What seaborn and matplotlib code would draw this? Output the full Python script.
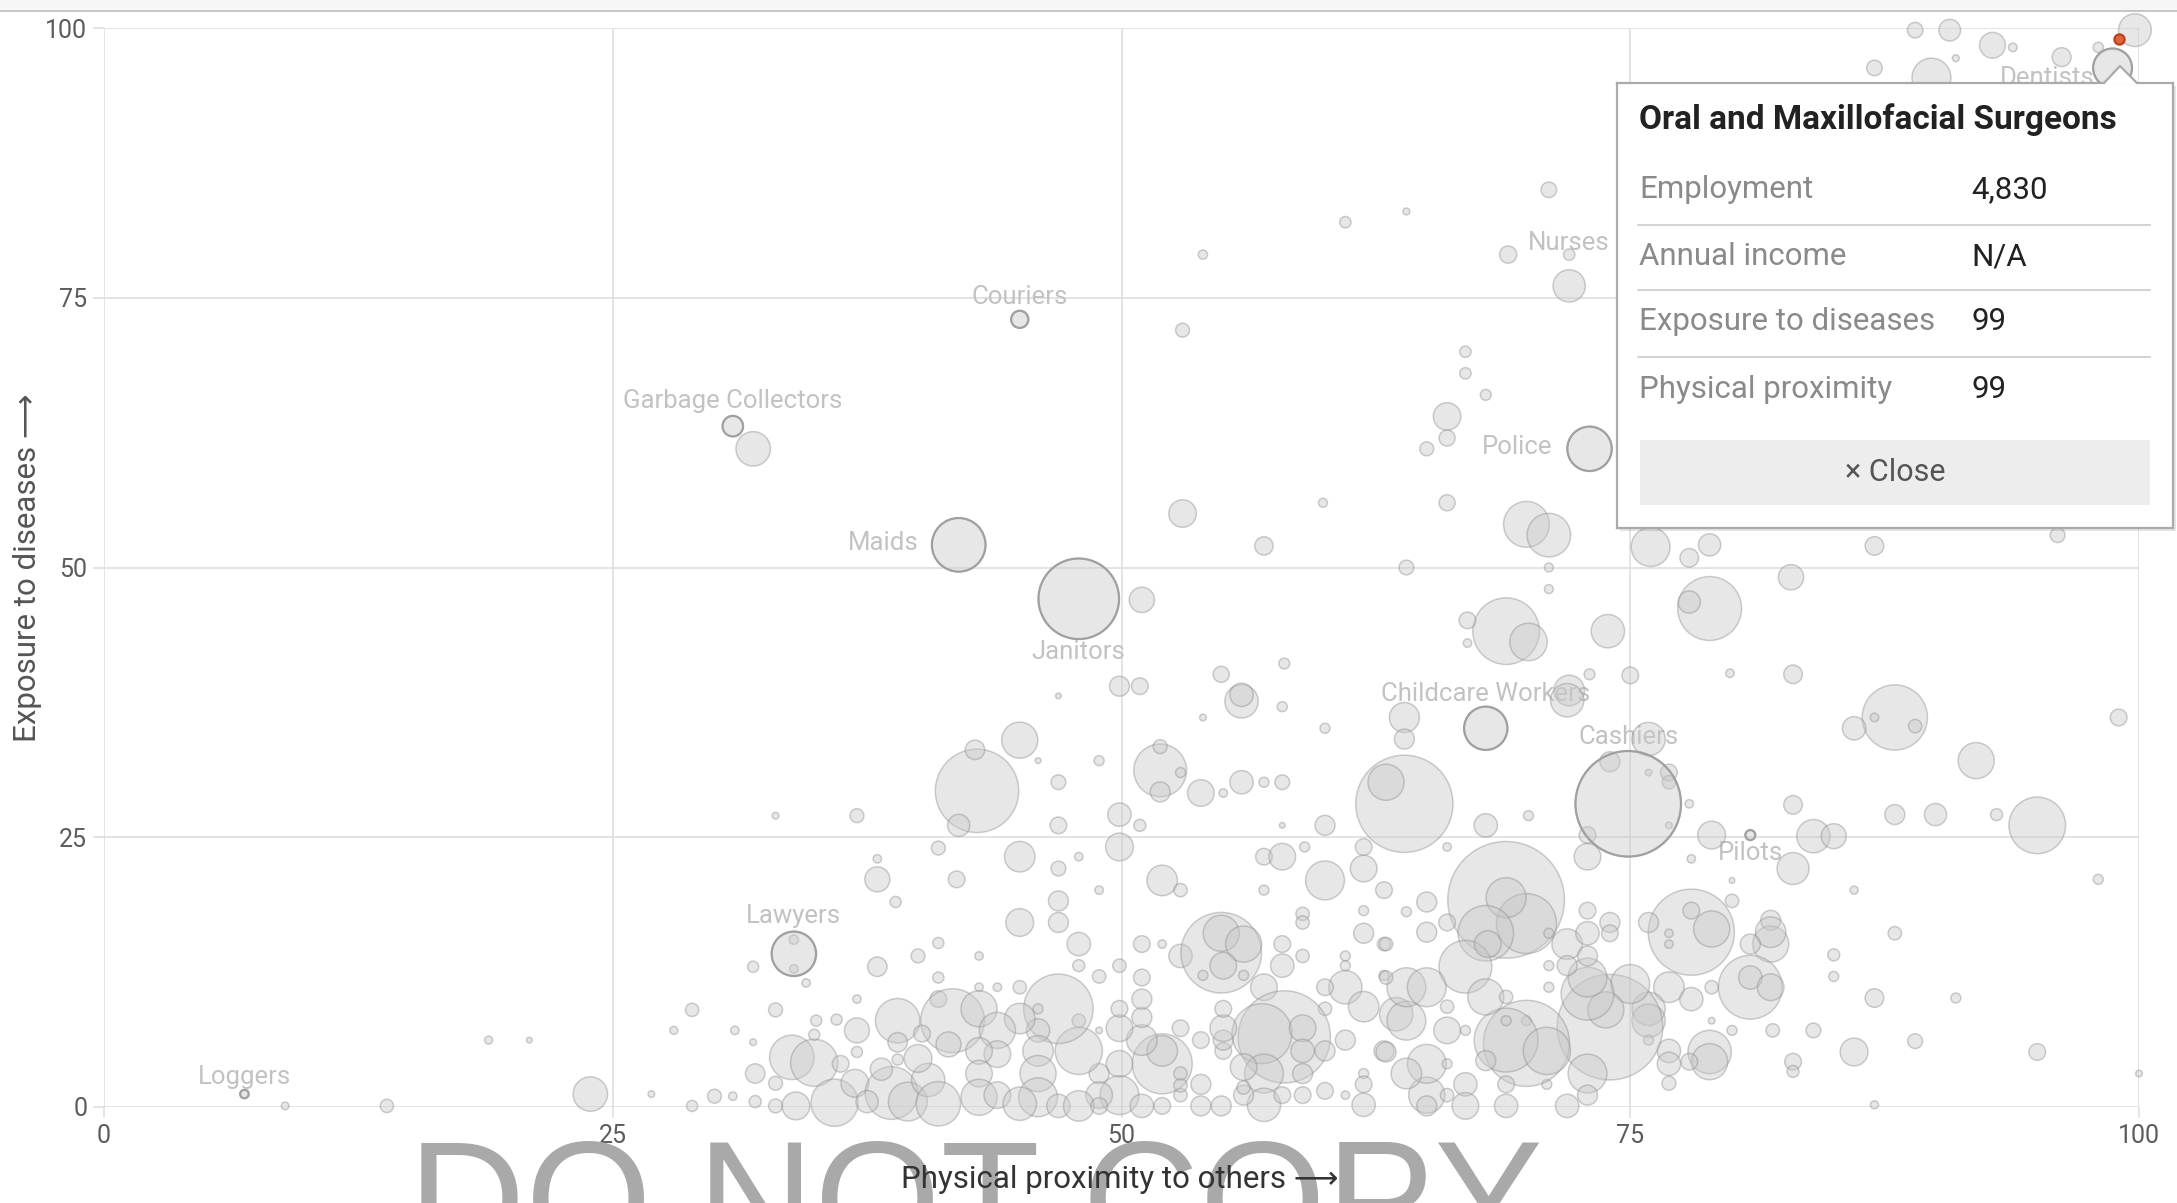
import matplotlib
matplotlib.use("Agg")
import matplotlib.pyplot as plt
from matplotlib.patches import Rectangle, Polygon
from matplotlib.lines import Line2D
import pandas as pd
import seaborn as sns

# --- occupations: proximity (x), exposure (y), employment in thousands ---
# far left, sparse
left_x = [8.9, 13.9, 18.9, 20.9, 23.9, 26.9, 28.0, 28.9, 28.9, 30.0,
          30.9, 31.0, 31.9, 31.9, 33.0, 33.0, 37.0, 31.9]
left_y = [0.1, 0.1, 6.2, 6.2, 1.2, 1.2, 7.1, 9.0, 0.1, 1.0,
          1.0, 7.1, 6.0, 13.0, 9.0, 27.0, 27.0, 61.0]
left_e = [20, 60, 22, 11, 404, 15, 22, 60, 42, 66,
          24, 24, 15, 42, 66, 15, 66, 404]

# proximity 32-43
mid1_x = [33.9, 33.9, 38.0, 38.0, 38.9, 38.0, 37.0, 36.0, 37.0, 37.0,
          39.0, 39.0, 41.0, 41.0, 41.0, 40.0, 41.0, 41.9, 41.7, 42.9,
          42.0, 42.8, 33.8, 34.9, 34.9, 32.0, 33.0, 32.0, 33.0, 34.0,
          35.9, 36.9, 38.7, 39.5, 40.5, 41.0, 40.0, 41.5, 40.2, 39.0,
          38.2, 37.5, 36.2, 35.0, 34.5]
mid1_y = [15.5, 12.8, 21.1, 23.0, 19.0, 13.0, 10.0, 8.1, 7.1, 5.1,
          8.0, 4.4, 12.0, 10.0, 15.2, 14.0, 24.0, 21.1, 8.0, 29.3,
          26.1, 33.1, 4.6, 4.1, 6.7, 3.1, 2.2, 0.5, 0.1, 0.1,
          0.4, 2.2, 1.3, 0.5, 2.5, 0.3, 4.5, 5.8, 6.8, 6.0,
          3.5, 0.5, 4.0, 8.0, 11.5]
mid1_e = [30, 25, 213, 24, 42, 129, 24, 42, 213, 42,
          673, 42, 42, 95, 42, 66, 66, 95, 1391, 2367,
          168, 129, 673, 760, 42, 129, 66, 50, 66, 263,
          760, 263, 949, 515, 379, 673, 263, 213, 95, 129,
          168, 168, 95, 42, 24]

# proximity 43-63, exposure above 19
mid2_x = [45.0, 45.9, 46.9, 46.9, 46.9, 48.9, 49.9, 50.9, 49.9, 49.9,
          50.9, 51.9, 51.9, 51.9, 52.9, 53.9, 55.0, 55.9, 55.9, 55.9,
          57.0, 57.9, 57.9, 54.0, 60.0, 57.9, 60.0, 45.0, 46.9, 47.9,
          48.9, 52.0, 52.9, 57.0, 57.0, 57.9, 59.0, 60.0, 62.9, 61.9,
          61.9]
mid2_y = [34.0, 32.1, 38.1, 30.1, 26.1, 32.1, 39.0, 39.0, 27.1, 24.1,
          26.1, 31.2, 33.4, 29.2, 31.0, 29.1, 29.1, 30.1, 37.6, 38.2,
          30.1, 30.1, 37.1, 36.1, 35.1, 26.1, 26.1, 23.2, 22.1, 23.2,
          20.1, 21.0, 20.1, 20.1, 23.2, 23.2, 24.1, 21.0, 20.1, 24.1,
          22.1]
mid2_e = [444, 11, 11, 74, 95, 34, 136, 95, 186, 263,
          49, 949, 66, 136, 34, 242, 24, 186, 379, 186,
          34, 74, 34, 15, 34, 11, 136, 318, 74, 24,
          24, 318, 61, 34, 95, 242, 34, 515, 95, 95,
          242]

# proximity 43-63, exposure below 19
low_x = [46.9, 46.9, 45.0, 47.9, 43.0, 47.9, 48.9, 49.9, 51.0, 52.0,
         52.9, 54.9, 54.9, 56.0, 55.0, 54.0, 56.0, 57.0, 57.9, 57.9,
         58.9, 58.9, 58.9, 61.0, 61.0, 61.9, 61.9, 62.9, 62.9, 61.0,
         61.9, 60.0, 60.0, 63.5, 62.9, 61.0, 61.9, 61.9, 61.9, 61.0,
         60.0, 58.0, 56.9, 57.0, 57.0, 56.0, 56.0, 54.9, 53.9, 53.9,
         55.0, 55.0, 55.0, 55.0, 53.9, 52.9, 52.0, 52.0, 51.0, 51.0,
         51.0, 51.0, 49.9, 49.9, 49.9, 49.9, 51.0, 52.0, 52.9, 48.9,
         48.9, 48.9, 47.9, 47.9, 46.9, 45.9, 45.9, 45.9, 45.9, 45.9,
         45.0, 45.0, 43.9, 43.0, 43.0, 43.9, 43.9, 43.0, 43.0, 43.0,
         43.9, 45.0, 46.9, 47.9, 48.9, 58.9, 58.9, 60.0, 58.9, 57.9,
         58.9, 56.0, 52.9, 52.9]
low_y = [19.1, 17.1, 17.1, 15.1, 14.0, 13.1, 12.1, 13.1, 15.1, 15.1,
         14.0, 14.3, 16.1, 15.1, 13.1, 12.2, 12.2, 11.1, 15.1, 13.1,
         14.0, 17.9, 17.1, 14.0, 13.1, 16.1, 18.2, 15.1, 12.2, 11.1,
         9.3, 11.1, 9.1, 8.6, 5.2, 6.2, 3.1, 2.1, 0.2, 1.1,
         1.5, 6.5, 6.8, 3.1, 0.2, 3.7, 1.1, 0.1, 0.1, 2.1,
         5.2, 6.2, 7.3, 9.1, 6.2, 7.3, 4.0, 5.2, 6.2, 8.3,
         10.0, 12.0, 7.3, 9.1, 4.0, 1.1, 0.1, 0.1, 1.1, 7.1,
         3.1, 1.1, 5.2, 8.0, 9.1, 9.1, 7.1, 5.2, 3.1, 0.9,
         8.2, 11.1, 11.1, 11.1, 9.1, 7.1, 4.9, 5.2, 3.1, 0.9,
         1.1, 0.3, 0.1, 0.1, 0.1, 7.3, 5.2, 5.2, 3.1, 1.1,
         1.1, 1.8, 3.1, 2.0]
low_e = [136, 136, 263, 186, 24, 49, 61, 61, 95, 24,
         186, 2212, 444, 444, 242, 34, 34, 242, 95, 186,
         61, 61, 61, 34, 34, 136, 34, 61, 34, 379,
         318, 95, 61, 379, 136, 136, 34, 95, 186, 24,
         95, 2900, 1227, 515, 379, 242, 136, 136, 136, 136,
         95, 136, 242, 95, 95, 95, 1227, 318, 318, 136,
         136, 95, 242, 95, 242, 515, 186, 95, 61, 15,
         136, 242, 760, 61, 1644, 34, 186, 318, 444, 515,
         318, 61, 24, 24, 444, 444, 242, 242, 242, 444,
         242, 379, 186, 318, 95, 242, 186, 136, 136, 95,
         95, 61, 61, 61]

# upper middle
up_x = [51.0, 53.0, 57.0, 59.9, 64.0, 66.0, 66.0, 65.0, 67.9, 66.0,
        66.9, 66.9, 69.9, 71.0, 71.0, 71.0, 68.9, 70.0, 67.0, 67.0,
        72.0, 73.0, 75.0, 58.0, 54.9, 71.0, 64.0, 61.0, 54.0, 53.0,
        69.0, 72.0, 73.9, 76.0, 77.9, 78.9, 78.9, 77.9, 82.9]
up_y = [47.0, 55.0, 52.0, 56.0, 50.0, 64.0, 62.0, 61.0, 66.0, 56.0,
        70.0, 68.0, 54.0, 53.0, 50.0, 48.0, 44.1, 43.1, 45.1, 43.0,
        38.6, 40.1, 40.0, 41.1, 40.1, 85.0, 83.0, 82.0, 79.0, 72.0,
        79.0, 79.0, 44.1, 51.9, 50.9, 52.1, 46.2, 46.8, 49.1]
up_e = [218, 258, 115, 27, 74, 258, 88, 66, 40, 88,
        44, 44, 716, 648, 27, 27, 1515, 479, 95, 24,
        318, 40, 95, 40, 88, 82, 16, 44, 29, 66,
        101, 44, 379, 515, 118, 168, 1391, 168, 218]

# right side
right_x = [87.0, 96.0, 79.9, 83.0, 88.0, 86.0, 92.0, 99.0, 83.0, 88.0,
           90.0, 93.0, 95.0, 84.0, 85.0, 83.0, 98.0, 86.0, 88.0, 85.0,
           85.0, 87.0, 91.0, 84.0, 86.0, 89.0, 95.0, 83.0, 83.0, 100.0,
           87.0, 87.0, 89.0]
right_y = [52.0, 53.0, 40.2, 40.1, 36.1, 35.1, 32.1, 36.1, 28.0, 27.1,
           27.1, 27.1, 26.1, 25.1, 25.1, 22.1, 21.1, 20.1, 16.1, 14.1,
           12.1, 10.1, 10.1, 7.1, 5.1, 6.1, 5.1, 4.2, 3.3, 3.1,
           0.2, 36.1, 35.3]
right_e = [118, 74, 24, 118, 1452, 186, 444, 95, 118, 136,
           168, 49, 1094, 379, 213, 348, 34, 22, 61, 49,
           34, 118, 34, 74, 263, 74, 95, 95, 49, 15,
           22, 25, 60]

# top right corner
top_x = [89.0, 90.7, 92.8, 91.0, 93.8, 96.2, 98.0, 99.8, 87.0, 89.8]
top_y = [99.8, 99.8, 98.4, 97.2, 98.2, 97.3, 98.2, 99.8, 96.3, 95.4]
top_e = [82, 160, 227, 16, 25, 122, 36, 366, 82, 515]

# proximity 63-84
east_x = [63.9, 63.9, 71.9, 74.0, 75.9, 76.9, 76.9, 77.9, 75.9, 76.9,
          72.9, 72.9, 63.9, 63.0, 67.9, 70.0, 66.0, 79.0, 78.0, 80.0,
          80.0, 68.9, 69.9, 68.9, 67.9, 66.9, 78.0, 79.0, 78.0, 75.9,
          76.9, 76.9, 81.9, 81.9, 81.9, 80.9, 80.9, 80.9, 81.9, 82.0,
          80.0, 78.9, 78.9, 78.0, 79.0, 79.0, 76.9, 75.9, 75.9, 75.9,
          76.9, 76.9, 74.0, 75.0, 73.8, 72.9, 72.9, 72.9, 72.9, 71.9,
          70.9, 69.9, 69.9, 68.9, 70.9, 68.9, 68.9, 67.9, 66.9, 66.9,
          65.0, 65.0, 65.0, 64.0, 63.0, 66.0, 66.0, 64.0, 64.0, 65.0,
          66.0, 66.0, 66.9, 67.9, 68.9, 68.9, 63.0, 63.0, 65.0, 65.0,
          64.0, 66.0, 68.0, 71.0, 71.0, 71.0, 71.9, 71.9, 72.9, 72.9,
          72.9, 74.0, 74.0, 76.9, 77.9]
east_y = [36.1, 34.1, 37.7, 32.0, 34.1, 31.0, 30.1, 28.1, 31.0, 26.1,
          25.2, 23.2, 28.1, 30.1, 26.1, 27.0, 24.1, 25.2, 23.0, 21.0,
          19.1, 19.2, 17.0, 19.4, 16.1, 13.0, 16.2, 16.5, 18.2, 17.1,
          16.1, 15.1, 17.3, 15.1, 16.2, 15.1, 11.1, 12.0, 11.1, 7.1,
          7.1, 5.1, 4.2, 10.0, 11.1, 8.0, 11.1, 9.1, 8.0, 6.2,
          5.2, 4.0, 7.4, 11.4, 9.0, 10.5, 12.0, 3.1, 1.1, 0.1,
          2.1, 8.0, 5.9, 6.2, 5.2, 2.1, 0.1, 4.3, 2.1, 0.1,
          1.1, 4.0, 0.1, 3.1, 5.1, 4.0, 1.1, 8.0, 11.1, 11.1,
          9.3, 7.1, 7.1, 10.2, 10.2, 8.0, 12.0, 15.1, 19.0, 16.2,
          18.1, 17.1, 15.1, 13.1, 11.1, 16.1, 15.1, 13.1, 14.0, 16.1,
          18.2, 17.1, 16.1, 2.2, 4.2]
east_e = [307, 136, 379, 136, 379, 95, 61, 24, 15, 15,
          95, 242, 3222, 444, 186, 34, 24, 263, 24, 11,
          61, 4639, 1227, 545, 1052, 949, 2527, 444, 95, 136,
          24, 24, 136, 444, 318, 136, 1391, 186, 242, 61,
          34, 640, 444, 186, 61, 15, 318, 379, 379, 34,
          186, 186, 3798, 515, 444, 949, 515, 515, 136, 186,
          34, 34, 2527, 1391, 760, 95, 186, 136, 186, 242,
          444, 515, 136, 318, 136, 34, 61, 515, 515, 515,
          61, 242, 34, 444, 61, 34, 61, 61, 136, 136,
          34, 95, 242, 34, 34, 34, 318, 136, 136, 186,
          95, 136, 95, 66, 95]

# labelled occupations
label_names = ["Loggers", "Garbage Collectors", "Couriers", "Maids", "Janitors", "Nurses",
               "Police", "Childcare Workers", "Cashiers", "Pilots", "Lawyers", "Dentists"]
label_x = [6.9, 30.9, 45.0, 42.0, 47.9, 72.0, 73.0, 67.9, 74.9, 80.9, 33.9, 98.7]
label_y = [1.2, 63.1, 73.0, 52.1, 47.1, 76.1, 61.0, 35.1, 28.1, 25.2, 14.2, 96.3]
label_e = [25, 144, 101, 980, 2212, 354, 673, 640, 3798, 34, 673, 515]

# selected occupation (tooltip)
focus_name = "Oral and Maxillofacial Surgeons"
focus_x = [99.0]
focus_y = [99.0]
tip_fields = ["Employment", "Annual income", "Exposure to diseases", "Physical proximity"]
tip_values = ["4,830", "N/A", "99", "99"]

ticks = [0, 25, 50, 75, 100]

all_x = left_x + mid1_x + mid2_x + low_x + up_x + right_x + top_x + east_x + label_x
all_y = left_y + mid1_y + mid2_y + low_y + up_y + right_y + top_y + east_y + label_y
all_e = left_e + mid1_e + mid2_e + low_e + up_e + right_e + top_e + east_e + label_e
assert len(all_x) == len(all_y) == len(all_e), (len(all_x), len(all_y), len(all_e))

df = pd.DataFrame({"proximity": all_x, "exposure": all_y, "employment": all_e})
labels_df = pd.DataFrame({"name": label_names, "proximity": label_x,
                          "exposure": label_y, "employment": label_e})

sns.set_theme(style="white")
plt.rcParams["font.family"] = ["Roboto", "DejaVu Sans"]

W, H = 2177, 1203
fig = plt.figure(figsize=(W / 100, H / 100), dpi=100)


def fx(px):
    return px / W


def fy(py):
    return 1 - py / H


ax = fig.add_axes([fx(104), fy(1107), fx(2139) - fx(104), fy(28) - fy(1107)])

# marker area proportional to employment
EMP_MAX = 4639
S_MAX = 4 * EMP_MAX / 2.63
size_kw = dict(size="employment", sizes=(0, S_MAX), size_norm=(0, EMP_MAX), legend=False)

sns.scatterplot(data=df, x="proximity", y="exposure", color="#c8c8c8", edgecolor="#8c8c8c",
                linewidth=1.1, alpha=0.42, ax=ax, clip_on=False, zorder=2, **size_kw)

outlined = labels_df[labels_df["name"] != "Nurses"]
sns.scatterplot(data=outlined, x="proximity", y="exposure", color="none", edgecolor="#a0a0a0",
                linewidth=1.6, ax=ax, clip_on=False, zorder=3, **size_kw)

sns.scatterplot(x=focus_x, y=focus_y, s=55, color="#e0643c", edgecolor="#b8401e",
                linewidth=1.5, ax=ax, clip_on=False, zorder=4)

# label placement: (dx, dy) in points, horizontal alignment
placement = {
    "Loggers": (0, 12, "center"),
    "Garbage Collectors": (0, 18, "center"),
    "Couriers": (0, 16, "center"),
    "Maids": (-29, 1, "right"),
    "Janitors": (0, -38, "center"),
    "Nurses": (0, 31, "center"),
    "Police": (-27, 1, "right"),
    "Childcare Workers": (0, 25, "center"),
    "Cashiers": (0, 48, "center"),
    "Pilots": (0, -13, "center"),
    "Lawyers": (0, 27, "center"),
    "Dentists": (-13, -7, "right"),
}
for _, row in labels_df.iterrows():
    dx, dy, ha = placement[row["name"]]
    ax.annotate(row["name"], (row["proximity"], row["exposure"]), xytext=(dx, dy),
                textcoords="offset points", ha=ha, va="center", fontsize=18.5,
                color="#c2c2c2", zorder=1.5, annotation_clip=False)

ax.set_xlim(0, 100)
ax.set_ylim(0, 100)
ax.set_xticks(ticks)
ax.set_yticks(ticks)
ax.grid(True, color="#dddddd", linewidth=1.1)
ax.set_axisbelow(True)
for sp in ax.spines.values():
    sp.set_visible(False)
ax.tick_params(bottom=True, left=True, length=8, width=1.1, color="#dddddd",
               labelsize=18, labelcolor="#5c5c5c", pad=4)
ax.set_xlabel("")
ax.set_ylabel("")

fig.text(fx(28), fy(568), "Exposure to diseases \u27f6", rotation=90, ha="center", va="center",
         fontsize=22.5, color="#555555")

# watermark
fig.text(fx(975), fy(1255), "DO NOT COPY", ha="center", va="baseline", fontsize=117,
         color="#a9a9a9", family=["Liberation Sans", "DejaVu Sans"], zorder=5)

fig.text(fx(1120), fy(1180), "Physical proximity to others \u27f6", ha="center", va="center",
         fontsize=22.5, color="#333333", zorder=6)

# browser strip at the top
fig.add_artist(Rectangle((0, fy(11)), 1, 11 / H, transform=fig.transFigure,
                         facecolor="#f6f6f6", edgecolor="none", zorder=0))
fig.add_artist(Line2D([0, 1], [fy(11), fy(11)], transform=fig.transFigure,
                      color="#bdbdbd", linewidth=1.2, zorder=1))

# tooltip
tx0, ty0, tx1, ty1 = 1617, 83, 2173, 528
fig.add_artist(Rectangle((fx(tx0 + 3), fy(ty1 + 3)), (tx1 - tx0) / W, (ty1 - ty0) / H,
                         transform=fig.transFigure, facecolor="#000000", alpha=0.10,
                         edgecolor="none", zorder=9))
tax = fig.add_axes([fx(tx0), fy(ty1), (tx1 - tx0) / W, (ty1 - ty0) / H], zorder=10)
tax.set_xlim(0, 1)
tax.set_ylim(0, 1)
tax.set_xticks([])
tax.set_yticks([])
tax.set_facecolor("white")
for sp in tax.spines.values():
    sp.set_color("#aaaaaa")
    sp.set_linewidth(1.6)

title = tax.text(0.04, 0.918, focus_name, fontsize=24, fontweight="bold", color="#222222",
                 va="center", ha="left",
                 family=["Liberation Sans Narrow", "Roboto", "DejaVu Sans"])
renderer = fig.canvas.get_renderer()
tw = title.get_window_extent(renderer).width
if tw > 492:
    title.set_fontsize(24 * 492 / tw)

row_y = [0.760, 0.609, 0.463, 0.312]
for field, value, yy in zip(tip_fields, tip_values, row_y):
    tax.text(0.04, yy, field, fontsize=22.5, color="#8a8a8a", va="center", ha="left")
    tax.text(0.638, yy, value, fontsize=22.5, color="#222222", va="center", ha="left")
for yy in [0.681, 0.535, 0.384]:
    tax.plot([0.038, 0.959], [yy, yy], color="#d2d2d2", linewidth=1.4)

tax.add_patch(Rectangle((0.041, 0.052), 0.918, 0.146, facecolor="#ededed", edgecolor="none"))
tax.text(0.5, 0.125, "\u00d7 Close", fontsize=22, color="#555555", ha="center", va="center")

# pointer of the tooltip
tri = [(2104, 84.5), (2120, 66), (2137, 84.5)]
fig.add_artist(Polygon([(fx(a), fy(b)) for a, b in tri], closed=True, transform=fig.transFigure,
                       facecolor="white", edgecolor="none", zorder=11))
fig.add_artist(Line2D([fx(2104), fx(2120), fx(2137)], [fy(83), fy(66), fy(83)],
                      transform=fig.transFigure, color="#aaaaaa", linewidth=1.6, zorder=12))

fig.savefig("out.png", dpi=100)
